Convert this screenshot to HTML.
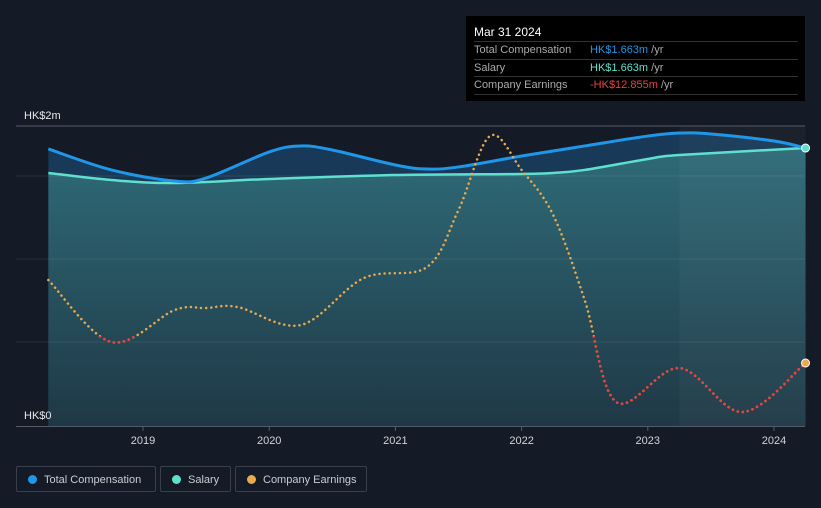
<!DOCTYPE html>
<html><head><meta charset="utf-8"><style>
body{margin:0;background:#151b26;font-family:"Liberation Sans",sans-serif;}
#wrap{position:relative;width:821px;height:508px;overflow:hidden;background:#151b26}
.tt{position:absolute;left:466px;top:16px;width:339px;height:85px;background:#000;color:#fff;font-size:11px}
.tt .h{position:absolute;left:8px;top:9px;font-size:12px}
.row{position:absolute;left:8px;width:324px;height:17px;border-top:1px solid #333;line-height:17px;color:#aaa}
.row span.v{position:absolute;left:116px}
.leg{position:absolute;top:466px;height:26px;border:1px solid #3a404b;border-radius:2px;color:#c8ccd2;font-size:11px;line-height:26px;box-sizing:border-box;white-space:nowrap;overflow:hidden}
.leg i{display:inline-block;width:9px;height:9px;border-radius:50%;margin:0 7px 0 11px;vertical-align:-1px}
</style></head><body><div id="wrap">
<svg id="svg" width="821" height="508" style="position:absolute;left:0;top:0"></svg>
<div class="tt">
<div class="h">Mar 31 2024</div>
<div class="row" style="top:25px">Total Compensation<span class="v"><b style="font-weight:normal;color:#1f96e8">HK$1.663m</b> /yr</span></div>
<div class="row" style="top:43px">Salary<span class="v"><b style="font-weight:normal;color:#5fe0cf">HK$1.663m</b> /yr</span></div>
<div class="row" style="top:60px;border-bottom:1px solid #333">Company Earnings<span class="v"><b style="font-weight:normal;color:#e8413f">-HK$12.855m</b> /yr</span></div>
</div>
<div class="leg" style="left:16px;width:140px"><i style="background:#1f96e8"></i>Total Compensation</div>
<div class="leg" style="left:160px;width:71px"><i style="background:#5fe0cf"></i>Salary</div>
<div class="leg" style="left:235px;width:132px"><i style="background:#e9a94f"></i>Company Earnings</div>
</div>
<script>
const compX=[2018.25,2018.75,2019.25,2019.5,2020.0,2020.25,2020.5,2021.0,2021.25,2021.5,2022.0,2022.5,2023.0,2023.25,2023.5,2024.0,2024.25];
const compV=[1.847,1.707,1.633,1.653,1.827,1.867,1.84,1.74,1.713,1.727,1.8,1.867,1.933,1.953,1.947,1.9,1.853];
const salX=[2018.25,2018.75,2019.25,2020.0,2021.0,2022.0,2022.25,2022.5,2023.0,2023.25,2024.25];
const salV=[1.687,1.64,1.62,1.647,1.673,1.68,1.687,1.707,1.78,1.807,1.853];
const earnX=[2018.25,2018.75,2019.25,2019.5,2019.75,2020.25,2020.75,2021.25,2021.5,2021.75,2022.0,2022.25,2022.5,2022.75,2023.25,2023.75,2024.25];
const earnV=[-4.56,-10.76,-7.56,-7.36,-7.26,-9.06,-4.36,-3.26,2.45,9.85,6.45,1.95,-6.56,-16.76,-13.36,-17.76,-12.855];
const yearTicks=[2019,2020,2021,2022,2023,2024];
const yLabels=["HK$0","HK$2m"];
const NS="http://www.w3.org/2000/svg",svg=document.getElementById('svg');
const X=t=>143+(t-2019)*126.2, Y=v=>426-v*150, YE=v=>363-(v+12.855)*10;
function el(tag,a,p){const e=document.createElementNS(NS,tag);for(const k in a)e.setAttribute(k,a[k]);(p||svg).appendChild(e);return e;}
function curve(xs,ys){const P=xs.map((x,i)=>[x,ys[i]]);let d=`M${P[0][0]},${P[0][1]}`;
for(let i=0;i<P.length-1;i++){const p0=P[i-1]||P[i],p1=P[i],p2=P[i+1],p3=P[i+2]||p2;
d+=` C${p1[0]+(p2[0]-p0[0])/6},${p1[1]+(p2[1]-p0[1])/6} ${p2[0]-(p3[0]-p1[0])/6},${p2[1]-(p3[1]-p1[1])/6} ${p2[0]},${p2[1]}`;}return d;}
const defs=el('defs',{});
defs.innerHTML='<linearGradient id="sg" x1="0" y1="0" x2="0" y2="1"><stop offset="0" stop-color="#2f6b78"/><stop offset="1" stop-color="#1f3846"/></linearGradient><clipPath id="rc"><rect x="0" y="336" width="821" height="100"/></clipPath>';
const x0=X(2018.25),x1=X(2024.25);
const cx=compX.map(X),cy=compV.map(Y),sx=salX.map(X),sy=salV.map(Y);
const cd=curve(cx,cy),sd=curve(sx,sy);
let e;
e=el('path',{d:cd+` L${x1},426 L${x0},426 Z`,fill:'#183a58'});

e=el('path',{d:sd+` L${x1},426 L${x0},426 Z`,fill:'url(#sg)'});

e=el('rect',{x:X(2023.25),y:126,width:x1-X(2023.25),height:300,fill:'#ffffff','fill-opacity':0.03});

[176,259,342].forEach(g=>{e=el('line',{x1:16,x2:805,y1:g,y2:g,stroke:'#ffffff','stroke-opacity':0.08});
});
e=el('line',{x1:16,x2:805,y1:126,y2:126,stroke:'#555b66'});
e=el('line',{x1:16,x2:805,y1:426.5,y2:426.5,stroke:'#555b66'});
yearTicks.forEach(t=>{e=el('line',{x1:X(t),x2:X(t),y1:426,y2:431,stroke:'#555b66'});
e=el('text',{x:X(t),y:444,fill:'#d0d3d8','font-size':11,'text-anchor':'middle'});e.textContent=t;});
e=el('text',{x:24,y:419,fill:'#e6e8eb','font-size':11});e.textContent=yLabels[0];
e=el('text',{x:24,y:119,fill:'#e6e8eb','font-size':11});e.textContent=yLabels[1];
e=el('path',{d:sd,fill:'none',stroke:'#5fe0cf','stroke-width':2.5});
e=el('path',{d:cd,fill:'none',stroke:'#1f96e8','stroke-width':3});
const ed=curve(earnX.map(X),earnV.map(YE));
e=el('path',{d:ed,fill:'none',stroke:'#e9a94f','stroke-width':2.5,'stroke-dasharray':'0.1 5','stroke-linecap':'round'});
e=el('path',{d:ed,fill:'none',stroke:'#e8413f','stroke-width':2.6,'stroke-dasharray':'0.1 5','stroke-linecap':'round','clip-path':'url(#rc)'});
e=el('circle',{cx:x1,cy:cy[cy.length-1],r:4,fill:'#5fe0cf',stroke:'#fff','stroke-width':1});
e=el('circle',{cx:x1,cy:YE(earnV[earnV.length-1]),r:4,fill:'#e9a94f',stroke:'#fff','stroke-width':1});
</script></body></html>
